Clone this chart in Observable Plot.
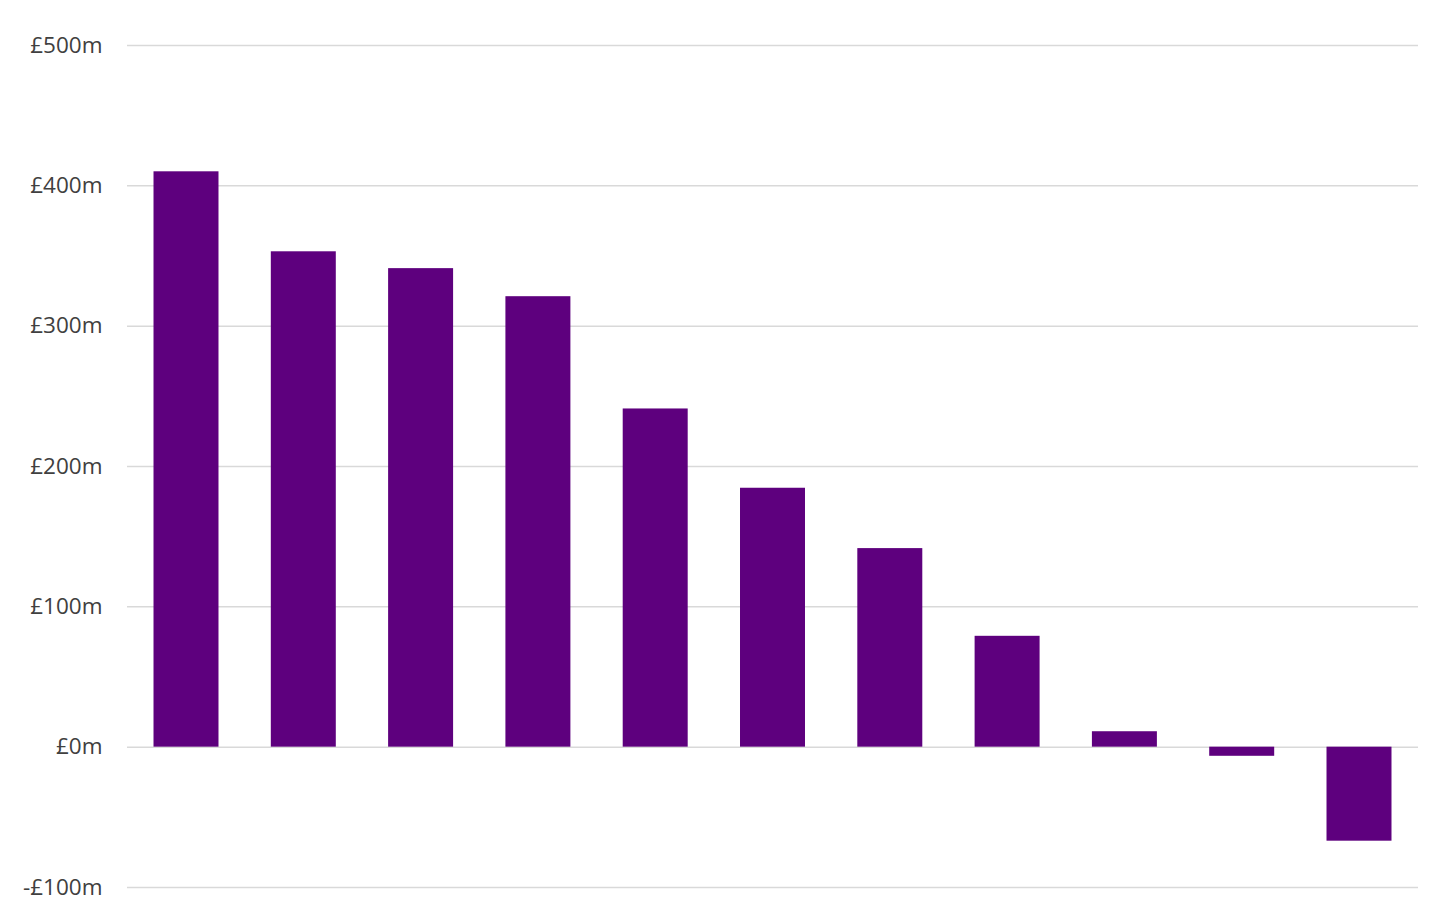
<!DOCTYPE html>
<html>
<head>
<meta charset="utf-8">
<script src="https://cdn.jsdelivr.net/npm/d3@7"></script>
<script src="https://cdn.jsdelivr.net/npm/@observablehq/plot@0.6"></script>
<style>
  html, body { margin: 0; padding: 0; background: #fff; }
  #chart svg { display: block; }
</style>
</head>
<body>
<div id="chart"></div>
<script>
const categories = ["1", "2", "3", "4", "5", "6", "7", "8", "9", "10", "11"];
const values = [410, 353, 341, 321, 241, 184.5, 141.5, 79, 11, -6.5, -67];
const yTicks = [-100, 0, 100, 200, 300, 400, 500];

const data = categories.map((c, i) => ({ category: c, value: values[i] }));

const fmt = d => (d < 0 ? "-£" + Math.abs(d) : "£" + d) + "m";

const chart = Plot.plot({
  width: 1456,
  height: 916,
  marginLeft: 127,
  marginRight: 38,
  marginTop: 45,
  marginBottom: 29,
  style: { fontFamily: "'Open Sans', Lato, sans-serif", fontSize: "22.5px", color: "#404040", background: "#fff" },
  x: { domain: categories, paddingInner: 0.446, paddingOuter: 0.226, round: false, axis: null },
  y: { domain: [-100, 500], ticks: yTicks, tickFormat: fmt, label: null, tickSize: 0, tickPadding: 25 },
  marks: [
    Plot.ruleY(yTicks, { stroke: "#d9d9d9", strokeWidth: 1.5 }),
    Plot.barY(data, { x: "category", y: "value", fill: "#5e007e", inset: 0 })
  ]
});
document.getElementById("chart").appendChild(chart);
</script>
</body>
</html>
